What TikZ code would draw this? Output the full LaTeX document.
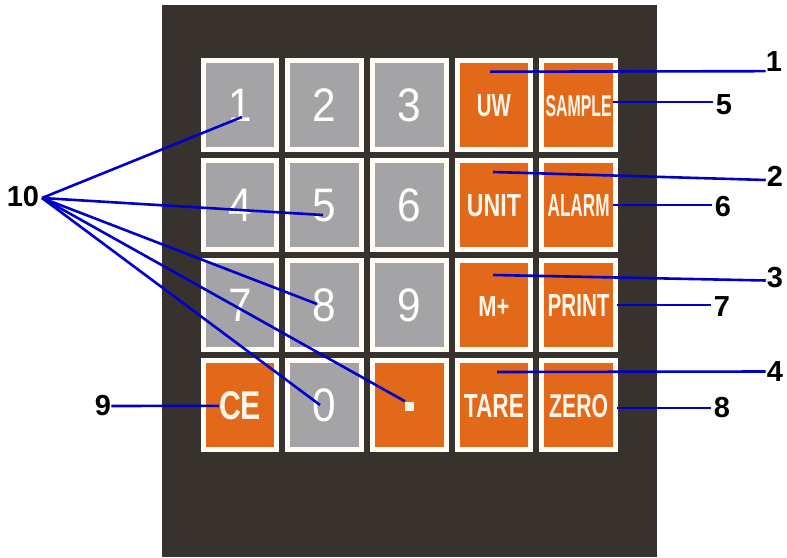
\documentclass[tikz,border=0pt]{standalone}
\usepackage{fontspec}
\usepackage{graphicx}
\setmainfont{Liberation Sans}
\newfontfamily\digfont[FakeStretch=0.9]{Liberation Sans}
\definecolor{panel}{HTML}{38322E}
\definecolor{keygray}{HTML}{A4A4A6}
\definecolor{keyorange}{HTML}{E2681A}
\definecolor{keyedge}{HTML}{FFFCF6}
\definecolor{cream}{HTML}{FFF6EA}
\definecolor{leadblue}{HTML}{0000C8}
\newcommand{\kt}[3]{\resizebox{#1pt}{#2pt}{#3}}
\begin{document}
\begin{tikzpicture}[x=1pt,y=-1pt,
  key/.style={draw=keyedge, line width=5pt, minimum width=73.7pt, minimum height=89pt, inner sep=0pt},
  gkey/.style={key, fill=keygray},
  okey/.style={key, fill=keyorange},
  dig/.style={text=white, inner sep=0pt, font=\digfont\fontsize{47}{47}\selectfont},
  wtxt/.style={text=cream, inner sep=0pt, font=\bfseries},
  lab/.style={inner sep=0pt, font=\bfseries\fontsize{29}{29}\selectfont},
  lead/.style={draw=leadblue, line width=2.6pt}]
\useasboundingbox (0,0) rectangle (787,557);
\fill[white] (0,0) rectangle (787,557);
\fill[panel] (162,5) rectangle (657,557);
% row 0
\node[gkey] (k1) at (240,105.3) {};
\node[gkey] (k2) at (324.65,105.3) {};
\node[gkey] (k3) at (409.3,105.3) {};
\node[okey] (kUW) at (493.95,105.3) {};
\node[okey] (kSAMPLE) at (578.6,105.3) {};
% row 1
\node[gkey] (k4) at (240,205.3) {};
\node[gkey] (k5) at (324.65,205.3) {};
\node[gkey] (k6) at (409.3,205.3) {};
\node[okey] (kUNIT) at (493.95,205.3) {};
\node[okey] (kALARM) at (578.6,205.3) {};
% row 2
\node[gkey] (k7) at (240,305.3) {};
\node[gkey] (k8) at (324.65,305.3) {};
\node[gkey] (k9) at (409.3,305.3) {};
\node[okey] (kMP) at (493.95,305.3) {};
\node[okey] (kPRINT) at (578.6,305.3) {};
% row 3
\node[okey] (kCE) at (240,405.3) {};
\node[gkey] (k0) at (324.65,405.3) {};
\node[okey] (kDOT) at (409.3,405.3) {};
\node[okey] (kTARE) at (493.95,405.3) {};
\node[okey] (kZERO) at (578.6,405.3) {};
% key texts
\node[dig] (t1) at (k1) {1};
\node[dig] (t2) at (k2) {2};
\node[dig] (t3) at (k3) {3};
\node[dig] (t4) at (k4) {4};
\node[dig] (t5) at (k5) {5};
\node[dig] (t6) at (k6) {6};
\node[dig] (t7) at (k7) {7};
\node[dig] (t8) at (k8) {8};
\node[dig] (t9) at (k9) {9};
\node[dig] (t0) at (k0) {0};
\node[wtxt] (tUW) at ([yshift=-0.5pt]kUW) {\kt{34}{22}{UW}};
\node[wtxt] (tSAMPLE) at ([yshift=-0.5pt]kSAMPLE) {\kt{66}{21}{SAMPLE}};
\node[wtxt] (tUNIT) at ([yshift=-0.5pt]kUNIT) {\kt{54}{22}{UNIT}};
\node[wtxt] (tALARM) at ([yshift=-0.5pt]kALARM) {\kt{62}{22}{ALARM}};
\node[wtxt] (tMP) at ([yshift=-1pt]kMP) {\kt{31}{20}{M+}};
\node[wtxt] (tPRINT) at ([yshift=-0.5pt]kPRINT) {\kt{62}{22}{PRINT}};
\node[wtxt] (tCE) at ([yshift=-0.5pt]kCE) {\kt{42}{28}{CE}};
\node[fill=cream, minimum size=9pt, inner sep=0pt] (tDOT) at (409.7,406) {};
\node[wtxt] (tTARE) at ([yshift=-1pt]kTARE) {\kt{60}{23}{TARE}};
\node[wtxt] (tZERO) at ([yshift=-1pt]kZERO) {\kt{59}{23}{ZERO}};
% callout labels
\node[lab] (L1) at (774,62) {1};
\node[lab] (L2) at (775,176) {2};
\node[lab] (L3) at (775,277.5) {3};
\node[lab] (L4) at (775,371.5) {4};
\node[lab] (L5) at (724,105) {5};
\node[lab] (L6) at (723,207) {6};
\node[lab] (L7) at (722,307) {7};
\node[lab] (L8) at (722,408) {8};
\node[lab] (L9) at (103,406) {9};
\node[lab] (L10) at (23,197) {10};
% connector end points
\coordinate (p1) at (490,71.7);
\coordinate (p2) at (493,172);
\coordinate (p3) at (493,275);
\coordinate (p4) at (497,372);
\coordinate (p5) at (613,102);
\coordinate (p6) at (613,205);
\coordinate (p7) at (617,305);
\coordinate (p8) at (617,408);
\coordinate (o10) at (42,198);
\coordinate (e1) at (242,117);
\coordinate (e5) at (323,215);
\coordinate (e8) at (317,304);
\coordinate (e0) at (320,405);
% connectors
\draw[lead] (p1) -- ([yshift=1pt]L1.south west);
\draw[lead] (p2) -- ([xshift=-1pt,yshift=-4pt]L2.west);
\draw[lead] (p3) -- ([xshift=-1pt,yshift=-3pt]L3.west);
\draw[lead] (p4) -- ([xshift=-1pt]L4.west);
\draw[lead] (p5) -- ([xshift=-3pt,yshift=3pt]L5.west);
\draw[lead] (p6) -- ([xshift=-3pt,yshift=2pt]L6.west);
\draw[lead] (p7) -- ([xshift=-3pt,yshift=2pt]L7.west);
\draw[lead] (p8) -- ([xshift=-3pt]L8.west);
\draw[lead] (L9.east) -- (tCE.west);
\draw[lead] (o10) -- (e1);
\draw[lead] (o10) -- (e5);
\draw[lead] (o10) -- (e8);
\draw[lead] (o10) -- (e0);
\draw[lead] (o10) -- (tDOT.north west);
\end{tikzpicture}
\end{document}
